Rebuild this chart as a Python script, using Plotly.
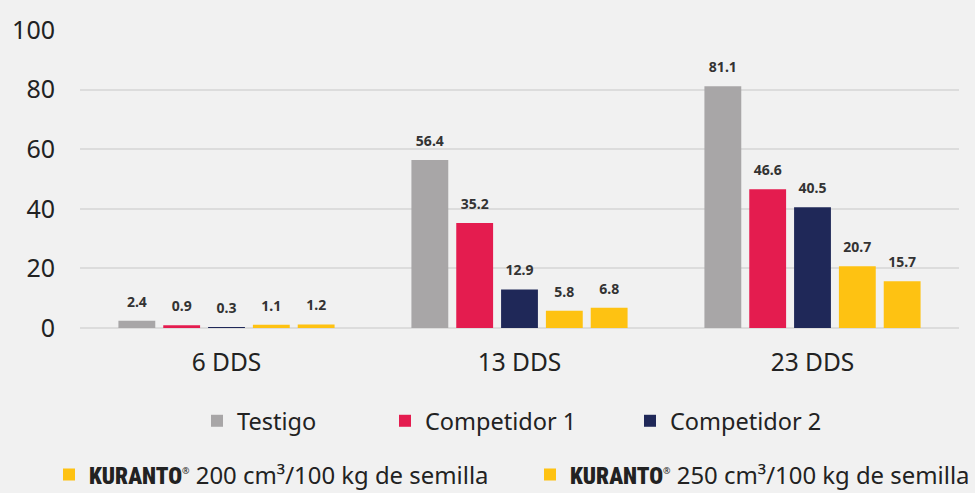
import plotly.graph_objects as go

categories = ["6 DDS", "13 DDS", "23 DDS"]
kuranto_tag = ("<span style='font-family:Roboto;font-stretch:condensed;font-weight:900;font-size:23px'>"
               "KURANTO</span><sup><span style='font-size:9px'>®</span></sup>")
series_names = [
    "Testigo",
    "Competidor 1",
    "Competidor 2",
    kuranto_tag + " 200 cm³/100 kg de semilla",
    kuranto_tag + " 250 cm³/100 kg de semilla",
]
testigo = [2.4, 56.4, 81.1]
competidor1 = [0.9, 35.2, 46.6]
competidor2 = [0.3, 12.9, 40.5]
kuranto200 = [1.1, 5.8, 20.7]
kuranto250 = [1.2, 6.8, 15.7]
y_ticks = [0, 20, 40, 60, 80, 100]

values = [testigo, competidor1, competidor2, kuranto200, kuranto250]
colors = ["#A8A6A7", "#E41C4F", "#1F2858", "#FEC212", "#FEC212"]
legend_ids = ["legend", "legend2", "legend3", "legend4", "legend5"]
legend_sizes = [23.5, 23.5, 23.5, 23.9, 23.9]

W, H = 975, 493
# legend positions in pixels (left of item, vertical center)
legend_pos = [(197, 421), (385, 421), (630, 421), (49, 475), (530, 475)]

fig = go.Figure()
for name, vals, col, lid in zip(series_names, values, colors, legend_ids):
    fig.add_trace(go.Bar(
        x=categories, y=vals, name=name, marker_color=col, marker_line_width=0,
        legend=lid,
        text=[f"{v:.1f}" for v in vals], textposition="outside",
        texttemplate="<span style='font-size:14px'>%{text}</span><br> ",
        constraintext="none", cliponaxis=False,
        textfont=dict(family="Noto Sans", size=7, color="#333333", weight="bold"),
    ))

layout_legends = {}
for lid, (px, py), fs in zip(legend_ids, legend_pos, legend_sizes):
    layout_legends[lid] = dict(
        orientation="h", xref="container", yref="container", xanchor="left", yanchor="middle",
        bgcolor="rgba(0,0,0,0)", borderwidth=0,
        font=dict(family="Noto Sans", size=fs, color="#222222"),
        x=px / W, y=1 - py / H,
    )

fig.update_layout(
    width=W, height=H,
    paper_bgcolor="#F1F1F1", plot_bgcolor="#F1F1F1",
    margin=dict(l=77, r=16, t=23, b=165),
    barmode="group", bargap=0.235, bargroupgap=0.178,
    font=dict(family="Noto Sans", color="#222222"),
    showlegend=True,
    **layout_legends,
)
fig.update_yaxes(
    range=[0, 100], tickvals=y_ticks, showgrid=True, gridcolor="#DCDCDC", gridwidth=1.5,
    zeroline=True, zerolinecolor="#DCDCDC", zerolinewidth=1.5, showline=False,
    tickfont=dict(family="Noto Sans", size=25, color="#222222"), ticklabelstandoff=24,
)
fig.update_xaxes(
    showgrid=False, showline=False, ticks="",
    tickfont=dict(family="Noto Sans", size=24.5, color="#222222"), ticklabelstandoff=17,
)

fig.write_html(
    "out.html",
    config={"displayModeBar": False},
    post_script="document.body.style.margin='0';document.body.style.overflow='hidden';",
)
